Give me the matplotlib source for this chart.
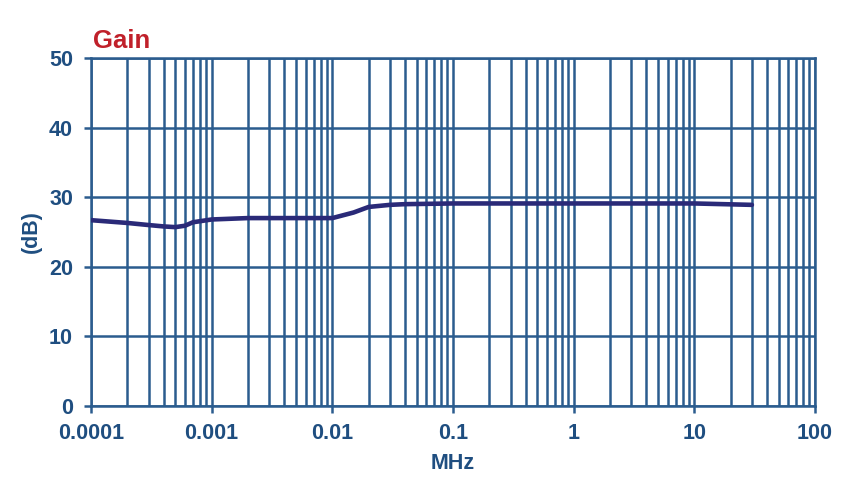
import matplotlib
matplotlib.use("Agg")
import matplotlib.pyplot as plt
from matplotlib.ticker import FixedLocator, FixedFormatter, LogLocator, NullFormatter

plt.rcParams['font.family'] = ['Liberation Sans', 'DejaVu Sans']

freq_mhz = [0.0001, 0.0002, 0.0003, 0.0004, 0.0005, 0.0006, 0.0007, 0.001, 0.002, 0.005, 0.01, 0.015, 0.02, 0.03, 0.04, 0.1, 1, 10, 30]
gain_db = [26.7, 26.3, 26.0, 25.8, 25.7, 25.9, 26.4, 26.8, 27.0, 27.0, 27.0, 27.8, 28.6, 28.9, 29.0, 29.1, 29.1, 29.1, 28.9]
x_ticks = [0.0001, 0.001, 0.01, 0.1, 1, 10, 100]
x_tick_labels = ["0.0001", "0.001", "0.01", "0.1", "1", "10", "100"]
y_ticks = [0, 10, 20, 30, 40, 50]

grid_c = "#2B5C8E"
text_c = "#1F4E80"
line_c = "#2A2A78"

fig = plt.figure(figsize=(8.59, 4.97), dpi=100)
ax = fig.add_axes([91/859, 1-406/497, (815-91)/859, (406-58)/497])
ax.set_xscale("log")
ax.set_xlim(1e-4, 100)
ax.set_ylim(0, 50)

ax.xaxis.set_major_locator(FixedLocator(x_ticks))
ax.xaxis.set_major_formatter(FixedFormatter(x_tick_labels))
ax.xaxis.set_minor_locator(LogLocator(base=10, subs=range(2, 10), numticks=20))
ax.xaxis.set_minor_formatter(NullFormatter())
ax.set_yticks(y_ticks)

ax.grid(True, which="both", axis="x", color=grid_c, lw=1.8)
ax.grid(True, which="major", axis="y", color=grid_c, lw=1.8)
ax.set_axisbelow(True)
for s in ax.spines.values():
    s.set_color(grid_c)
    s.set_linewidth(1.8)

ax.tick_params(axis="both", which="major", colors=grid_c, width=1.8, length=5,
               labelcolor=text_c, labelsize=15.5)
ax.tick_params(axis="x", which="major", pad=7)
ax.tick_params(axis="y", which="major", pad=8)
ax.tick_params(axis="x", which="minor", length=0)
for lab in ax.get_xticklabels() + ax.get_yticklabels():
    lab.set_fontweight("bold")

ax.plot(freq_mhz, gain_db, color=line_c, lw=3.3, solid_capstyle="round", zorder=3)

ax.set_xlabel("MHz", color=text_c, fontsize=15.5, fontweight="bold", labelpad=7)
ax.set_ylabel("(dB)", color=text_c, fontsize=15.5, fontweight="bold", labelpad=5)
fig.text(93/859, 1-41/497, "Gain", color="#C0202A", fontsize=18.5, fontweight="bold",
         ha="left", va="center")

fig.savefig("out.png", dpi=100)
